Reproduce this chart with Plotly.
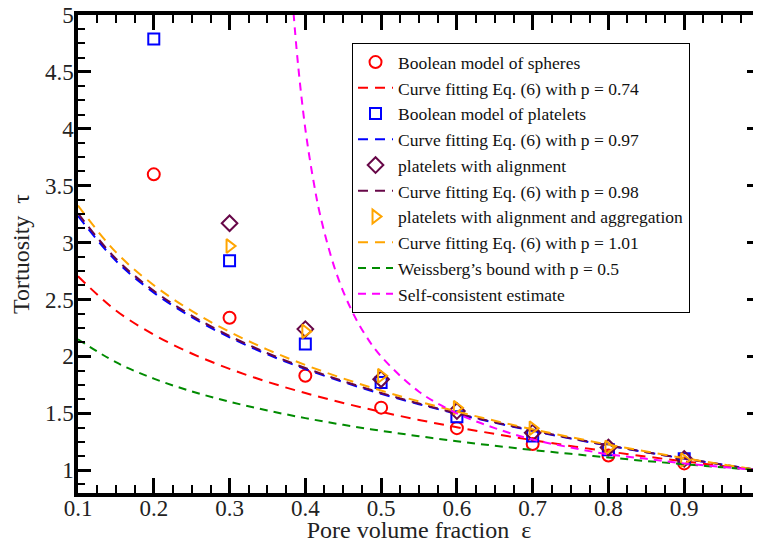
import plotly.graph_objects as go

# ---- data ----
eps_pts = [0.2, 0.3, 0.4, 0.5, 0.6, 0.7, 0.8, 0.9]
spheres = [3.60, 2.34, 1.83, 1.55, 1.37, 1.23, 1.13, 1.06]
platelets = [4.79, 2.84, 2.11, 1.77, 1.47, 1.30, 1.18, 1.10]
eps_pts2 = [0.3, 0.4, 0.5, 0.6, 0.7, 0.8, 0.9]
aligned = [3.17, 2.24, 1.80, 1.52, 1.33, 1.20, 1.10]
aggregated = [2.97, 2.22, 1.83, 1.55, 1.37, 1.20, 1.09]

eps_curve = [0.1, 0.15, 0.2, 0.25, 0.3, 0.35, 0.4, 0.45, 0.5, 0.55,
             0.6, 0.65, 0.7, 0.75, 0.8, 0.85, 0.9, 0.95, 1.0]
fit_074 = [2.704, 2.404, 2.191, 2.026, 1.891, 1.777, 1.678, 1.591, 1.513, 1.442,
           1.378, 1.319, 1.264, 1.213, 1.165, 1.120, 1.078, 1.038, 1.0]
fit_097 = [3.234, 2.840, 2.561, 2.345, 2.168, 2.018, 1.889, 1.775, 1.672, 1.580,
           1.495, 1.418, 1.346, 1.279, 1.216, 1.158, 1.102, 1.050, 1.0]
fit_098 = [3.257, 2.859, 2.577, 2.359, 2.180, 2.029, 1.898, 1.783, 1.679, 1.586,
           1.501, 1.422, 1.350, 1.282, 1.219, 1.159, 1.103, 1.050, 1.0]
fit_101 = [3.326, 2.916, 2.626, 2.400, 2.216, 2.060, 1.925, 1.806, 1.700, 1.604,
           1.516, 1.435, 1.360, 1.291, 1.225, 1.164, 1.106, 1.052, 1.0]
weissberg = [2.151, 1.949, 1.805, 1.693, 1.602, 1.525, 1.458, 1.399, 1.347, 1.299,
             1.255, 1.215, 1.178, 1.144, 1.112, 1.081, 1.053, 1.026, 1.0]

eps_sc = [0.383, 0.39, 0.40, 0.41, 0.42, 0.44, 0.46, 0.48, 0.5, 0.55, 0.6,
          0.65, 0.7, 0.75, 0.8, 0.85, 0.9, 0.95, 1.0]
self_consistent = [5.14, 4.59, 4.00, 3.57, 3.23, 2.75, 2.42, 2.18, 2.00, 1.69, 1.50,
                   1.37, 1.27, 1.20, 1.14, 1.10, 1.06, 1.03, 1.0]

RED = "#ff0000"
BLUE = "#0000ff"
MAROON = "#670748"
ORANGE = "#ffa500"
GREEN = "#008b00"
MAGENTA = "#ff00ff"

fig = go.Figure()

def markers(x, y, name, color, symbol, size):
    fig.add_trace(go.Scatter(x=x, y=y, mode="markers", name=name, cliponaxis=False,
                             marker=dict(symbol=symbol, size=size, color=color,
                                         line=dict(color=color, width=2))))

def curve(x, y, name, color, dash="dash", width=2):
    fig.add_trace(go.Scatter(x=x, y=y, mode="lines", name=name, line_shape="spline",
                             line=dict(color=color, width=width, dash=dash)))

markers(eps_pts, spheres, "Boolean model of spheres", RED, "circle-open", 12)
curve(eps_curve, fit_074, "Curve fitting Eq. (6) with p = 0.74", RED, "10px,7px")
markers(eps_pts, platelets, "Boolean model of platelets", BLUE, "square-open", 11)
curve(eps_curve, fit_097, "Curve fitting Eq. (6) with p = 0.97", BLUE, "10px,7px")
markers(eps_pts2, aligned, "platelets with alignment", MAROON, "diamond-open", 12)
curve(eps_curve, fit_098, "Curve fitting Eq. (6) with p = 0.98", MAROON, "10px,7px")
markers(eps_pts2, aggregated, "platelets with alignment and aggregation", ORANGE, "triangle-right-open", 12)
curve(eps_curve, fit_101, "Curve fitting Eq. (6) with p = 1.01", ORANGE, "10px,7px")
curve(eps_curve, weissberg, "Weissberg\u2019s bound with p = 0.5", GREEN, "8px,6px")
curve(eps_sc, self_consistent, "Self-consistent estimate", MAGENTA, "8px,6px")

axis_common = dict(
    showgrid=False, zeroline=False, showline=True, linecolor="black", linewidth=3.5,
    mirror="allticks", ticks="inside", tickwidth=2.5, tickcolor="black",
    automargin=False, ticklabeloverflow="allow",
    tickfont=dict(family="Liberation Serif", size=23, color="#222"),
)

fig.update_layout(
    width=753, height=535,
    margin=dict(l=70, r=1, t=7, b=50),
    plot_bgcolor="white", paper_bgcolor="white",
    font=dict(family="Liberation Serif", color="#222"),
    xaxis=dict(range=[0.1, 1.0], dtick=0.1, tick0=0.1, ticklen=15, ticklabelstandoff=-8,
               minor=dict(dtick=0.025, ticklen=8, tickwidth=2, tickcolor="black", ticks="inside"),
               title=dict(text="Pore volume fraction  \u03b5", font=dict(size=24), standoff=4),
               **axis_common),
    yaxis=dict(range=[0.8, 5.0], dtick=0.5, tick0=1.0, ticklen=13, ticklabelstandoff=-4,
               minor=dict(dtick=0.125, ticklen=7, tickwidth=2, tickcolor="black", ticks="inside"),
               title=dict(text="Tortuosity  \u03c4", font=dict(size=24), standoff=15),
               **axis_common),
    legend=dict(x=0.4018, y=0.941, xanchor="left", yanchor="top",
                bgcolor="white", bordercolor="black", borderwidth=1,
                font=dict(family="Liberation Serif", size=17.5, color="#111"),
                tracegroupgap=0, itemwidth=35, entrywidth=388, entrywidthmode="pixels"),
    showlegend=True,
)

fig.write_html("out.html")
